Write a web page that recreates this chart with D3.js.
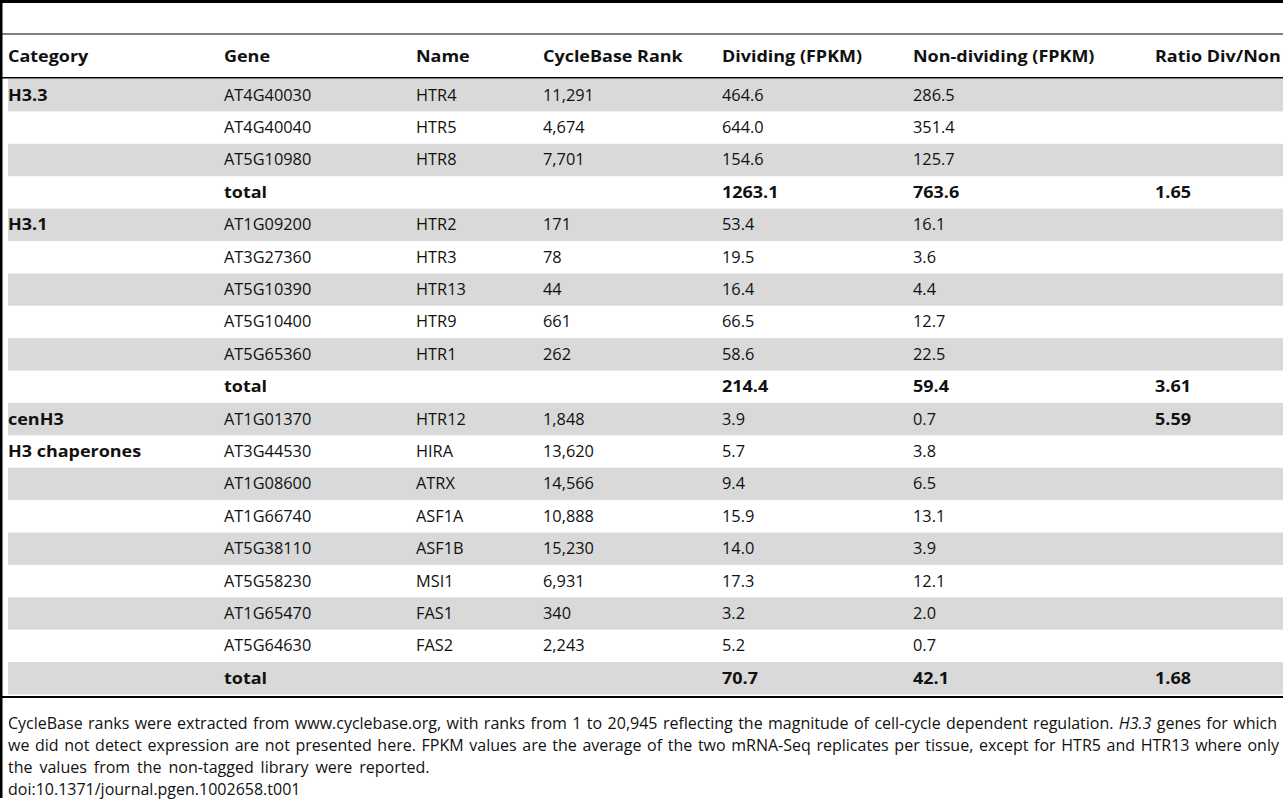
<!DOCTYPE html>
<html>
<head>
<meta charset="utf-8">
<script src="https://cdn.jsdelivr.net/npm/d3@7"></script>
<style>
  html, body { margin: 0; padding: 0; background: #fff; }
  svg { display: block; font-family: "Open Sans", "Noto Sans", sans-serif; }
</style>
</head>
<body>
<svg id="chart" width="1283" height="800"></svg>
<script>
const headers = ["Category", "Gene", "Name", "CycleBase Rank", "Dividing (FPKM)", "Non-dividing (FPKM)", "Ratio Div/Non"];
const categories = ["H3.3", "", "", "", "H3.1", "", "", "", "", "", "cenH3", "H3 chaperones", "", "", "", "", "", "", ""];
const genes = ["AT4G40030", "AT4G40040", "AT5G10980", "total", "AT1G09200", "AT3G27360", "AT5G10390", "AT5G10400", "AT5G65360", "total", "AT1G01370", "AT3G44530", "AT1G08600", "AT1G66740", "AT5G38110", "AT5G58230", "AT1G65470", "AT5G64630", "total"];
const names = ["HTR4", "HTR5", "HTR8", "", "HTR2", "HTR3", "HTR13", "HTR9", "HTR1", "", "HTR12", "HIRA", "ATRX", "ASF1A", "ASF1B", "MSI1", "FAS1", "FAS2", ""];
const ranks = ["11,291", "4,674", "7,701", "", "171", "78", "44", "661", "262", "", "1,848", "13,620", "14,566", "10,888", "15,230", "6,931", "340", "2,243", ""];
const dividing = ["464.6", "644.0", "154.6", "1263.1", "53.4", "19.5", "16.4", "66.5", "58.6", "214.4", "3.9", "5.7", "9.4", "15.9", "14.0", "17.3", "3.2", "5.2", "70.7"];
const nonDividing = ["286.5", "351.4", "125.7", "763.6", "16.1", "3.6", "4.4", "12.7", "22.5", "59.4", "0.7", "3.8", "6.5", "13.1", "3.9", "12.1", "2.0", "0.7", "42.1"];
const ratios = ["", "", "", "1.65", "", "", "", "", "", "3.61", "5.59", "", "", "", "", "", "", "", "1.68"];
const footnote = [
  [{t: "CycleBase ranks were extracted from www.cyclebase.org, with ranks from 1 to 20,945 reflecting the magnitude of cell-cycle dependent regulation. "}, {t: "H3.3", i: true}, {t: " genes for which"}],
  [{t: "we did not detect expression are not presented here. FPKM values are the average of the two mRNA-Seq replicates per tissue, except for HTR5 and HTR13 where only"}],
  [{t: "the values from the non-tagged library were reported."}],
  [{t: "doi:10.1371/journal.pgen.1002658.t001"}]
];

const W = 1283;
const svg = d3.select("#chart");
const rows = genes.map((g, i) => ({
  i, cells: [categories[i], g, names[i], ranks[i], dividing[i], nonDividing[i], ratios[i]],
  total: g === "total"
}));

const colX = d3.scaleOrdinal().domain(d3.range(7)).range([8, 224, 416, 543, 722, 913, 1155]);
const y = d3.scaleBand().domain(d3.range(rows.length)).range([79, 694.5]);

const BOLD = {size: 15.5, sx: 1.16};
const REG = {size: 15.5, sx: 1.055};

// row shading
svg.selectAll("rect.shade").data(rows.filter(r => r.i % 2 === 0)).join("rect")
  .attr("class", "shade")
  .attr("x", 8).attr("width", W - 8)
  .attr("y", d => y(d.i)).attr("height", y.bandwidth())
  .attr("fill", "#d9d9d9");

// rules
svg.append("rect").attr("x", 0).attr("y", 0).attr("width", W).attr("height", 3).attr("fill", "#000");
svg.append("rect").attr("x", 0).attr("y", 0).attr("width", 2.5).attr("height", 798).attr("fill", "#000");
svg.append("line").attr("x1", 0).attr("x2", W).attr("y1", 34).attr("y2", 34).attr("stroke", "#000").attr("stroke-width", 1.2);
svg.append("line").attr("x1", 0).attr("x2", W).attr("y1", 77.8).attr("y2", 77.8).attr("stroke", "#000").attr("stroke-width", 1.5);
svg.append("line").attr("x1", 0).attr("x2", W).attr("y1", 697).attr("y2", 697).attr("stroke", "#000").attr("stroke-width", 2);

// header
svg.append("g").selectAll("text").data(headers).join("text")
  .attr("transform", (d, i) => `translate(${colX(i)},57) scale(${BOLD.sx},1)`)
  .attr("dy", "0.35em")
  .attr("font-size", BOLD.size).attr("font-weight", 700).attr("fill", "#111")
  .text(d => d);

// body
const rg = svg.append("g").selectAll("g").data(rows).join("g")
  .attr("transform", d => `translate(0,${y(d.i) + y.bandwidth() / 2})`);
rg.selectAll("text").data(r => r.cells.map((c, j) => ({c, j, bold: j === 0 || j === 6 || (r.total && j !== 2 && j !== 3)}))).join("text")
  .attr("transform", d => `translate(${colX(d.j)},0) scale(${d.bold ? BOLD.sx : REG.sx},1)`)
  .attr("dy", "0.35em")
  .attr("font-size", d => d.bold ? BOLD.size : REG.size)
  .attr("font-weight", d => d.bold ? 700 : 400)
  .attr("fill", "#111")
  .text(d => d.c);

// footnote
const fy = d3.scaleLinear().domain([0, 1]).range([723.2, 745.3]);
const targets = [1269, 1271];
footnote.forEach((line, k) => {
  const t = svg.append("text").attr("x", 8).attr("y", fy(k)).attr("dy", "0.35em")
    .attr("font-size", 16).attr("fill", "#111");
  line.forEach(seg => {
    t.append("tspan").attr("font-style", seg.i ? "italic" : "normal").text(seg.t);
  });
  const str = line.map(s => s.t).join("");
  const nSpaces = (str.match(/ /g) || []).length;
  if (k < 2) {
    const natural = t.node().getComputedTextLength();
    t.attr("word-spacing", (targets[k] - natural) / nSpaces);
  } else if (nSpaces > 0) {
    t.attr("word-spacing", 2.8);
  }
});
</script>
</body>
</html>
